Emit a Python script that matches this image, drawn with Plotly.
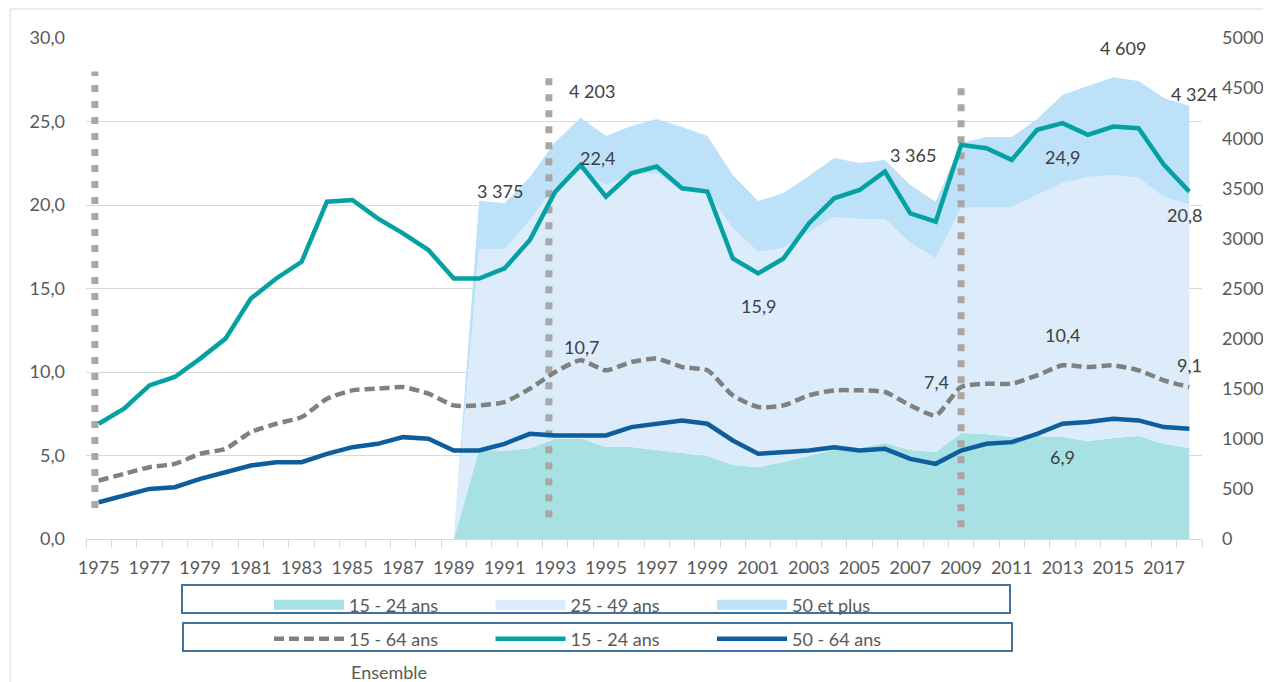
import plotly.graph_objects as go

# ---------------- data ----------------
years = list(range(1975, 2019))
area_years = list(range(1989, 2019))

# taux de chômage (%), axe gauche
rate_15_64 = [3.5, 3.9, 4.3, 4.5, 5.1, 5.4, 6.4, 6.9, 7.3, 8.4, 8.9, 9.0, 9.1, 8.7, 8.0,
              8.0, 8.2, 9.0, 10.0, 10.7, 10.1, 10.6, 10.8, 10.3, 10.1, 8.6, 7.9, 8.0, 8.6, 8.9,
              8.9, 8.8, 8.0, 7.4, 9.1, 9.3, 9.3, 9.8, 10.4, 10.3, 10.4, 10.1, 9.5, 9.1]
rate_15_24 = [6.9, 7.8, 9.2, 9.7, 10.8, 12.0, 14.4, 15.6, 16.6, 20.2, 20.3, 19.2, 18.3, 17.3, 15.6,
              15.6, 16.2, 17.9, 20.8, 22.4, 20.5, 21.9, 22.3, 21.0, 20.8, 16.8, 15.9, 16.8, 18.9, 20.4,
              20.9, 22.0, 19.5, 19.0, 23.6, 23.4, 22.7, 24.5, 24.9, 24.2, 24.7, 24.6, 22.4, 20.8]
rate_50_64 = [2.2, 2.6, 3.0, 3.1, 3.6, 4.0, 4.4, 4.6, 4.6, 5.1, 5.5, 5.7, 6.1, 6.0, 5.3,
              5.3, 5.7, 6.3, 6.2, 6.2, 6.2, 6.7, 6.9, 7.1, 6.9, 5.9, 5.1, 5.2, 5.3, 5.5,
              5.3, 5.4, 4.8, 4.5, 5.3, 5.7, 5.8, 6.3, 6.9, 7.0, 7.2, 7.1, 6.7, 6.6]

# effectifs (milliers), axe droit, empilés
n_15_24 = [0, 890, 880, 905, 1000, 1005, 918, 918, 888, 858, 828, 738, 718, 768, 828,
           898, 908, 958, 888, 868, 1058, 1048, 1018, 1028, 1018, 978, 1008, 1028, 948, 908]
n_25_49 = [0, 2004, 2014, 2279, 2520, 2675, 2615, 2715, 2765, 2622, 2622, 2366, 2146, 2136, 2236,
           2316, 2286, 2236, 2066, 1936, 2245, 2265, 2295, 2405, 2535, 2635, 2625, 2575, 2465, 2425]
n_50_plus = [0, 481, 456, 429, 442, 523, 489, 489, 539, 632, 572, 529, 509, 549, 559,
             588, 559, 588, 579, 561, 649, 699, 699, 759, 878, 908, 976, 968, 988, 991]

tick_years = list(range(1975, 2018, 2))
period_marks = [1974.85, 1992.75, 2009.0]
period_tops = [28.0, 27.6, 27.0]
period_bottoms = [1.85, 1.3, 0.7]

# ---------------- geometry helpers (screen px -> paper) ----------------
OFF = 8                          # page body margin
W, H = 1271 - OFF, 682 - OFF
L, R, T, B = 86, 1202, 38, 539   # plot area in screen px
def px(x):
    return (x - L) / (R - L)
def py(y):
    return (B - y) / (B - T)

FONT = "Lato"
FS = 18
fig = go.Figure()

# stacked areas (right axis scale, base subplot so it stays under the lines)
area_specs = [("15 - 24 ans", n_15_24, "#A7E1E3"),
              ("25 - 49 ans", n_25_49, "#DDECFA"),
              ("50 et plus", n_50_plus, "#BDE1F8")]
for name, vals, col in area_specs:
    fig.add_trace(go.Scatter(x=area_years, y=vals, name=name, stackgroup="one",
                             mode="none", fillcolor=col, yaxis="y", showlegend=False,
                             hoverinfo="skip"))
# legend swatches for the areas (legend-only entries)
for name, vals, col in area_specs:
    fig.add_trace(go.Scatter(x=[None], y=[None], name=name, mode="lines", yaxis="y",
                             line=dict(color=col, width=11), legend="legend",
                             hoverinfo="skip"))

# vertical dotted period markers
for xm, top, bot in zip(period_marks, period_tops, period_bottoms):
    fig.add_trace(go.Scatter(x=[xm, xm], y=[bot, top], mode="lines", yaxis="y2",
                             line=dict(color="#ABA6A6", width=7, dash="7px,9px"),
                             showlegend=False, hoverinfo="skip"))

# lines
fig.add_trace(go.Scatter(x=years, y=rate_15_64, name="15 - 64 ans", yaxis="y2", legend="legend2",
                         mode="lines", line=dict(color="#808080", width=4.5, dash="10px,5px",
                                                 shape="spline", smoothing=0.6)))
fig.add_trace(go.Scatter(x=years, y=rate_15_24, name="15 - 24 ans", yaxis="y2", legend="legend2",
                         mode="lines", line=dict(color="#04A1A3", width=4.5)))
fig.add_trace(go.Scatter(x=years, y=rate_50_64, name="50 - 64 ans", yaxis="y2", legend="legend2",
                         mode="lines", line=dict(color="#0E5D9C", width=4.5)))

# data labels
def fr(v, dec):
    if dec:
        return f"{v:.1f}".replace(".", ",")
    return f"{v:,}".replace(",", " ")

totals = [a + b + c for a, b, c in zip(n_15_24, n_25_49, n_50_plus)]
labels = []
for yr, dx, dy in [(1990, 21, 10), (1994, 11, 27), (2008, -23, 47), (2015, 10, 29), (2018, 5, 12)]:
    v = totals[area_years.index(yr)]
    labels.append((yr, v, "y", fr(v, False), dx, dy))
for yr, dx, dy in [(1994, 17, 7), (2001, 0, -33), (2013, 0, -34), (2018, -5, -23)]:
    v = rate_15_24[years.index(yr)]
    labels.append((yr, v, "y2", fr(v, True), dx, dy))
for yr, dx, dy in [(1994, 1, 13), (2008, 1, 33), (2013, 0, 30), (2018, 0, 22)]:
    v = rate_15_64[years.index(yr)]
    labels.append((yr, v, "y2", fr(v, True), dx, dy))
for yr, dx, dy in [(2013, 0, -33)]:
    v = rate_50_64[years.index(yr)]
    labels.append((yr, v, "y2", fr(v, True), dx, dy))

annotations = []
for xv, yv, yr_, txt, dx, dy in labels:
    annotations.append(dict(x=xv, y=yv, xref="x", yref=yr_, text=txt, showarrow=False,
                            xshift=dx, yshift=dy, font=dict(family=FONT, size=FS, color="#404040")))
annotations.append(dict(x=px(389), y=py(672), xref="paper", yref="paper", text="Ensemble",
                        xanchor="center", yanchor="middle", showarrow=False,
                        font=dict(family=FONT, size=FS, color="#595959")))

shapes = [
    dict(type="rect", xref="paper", yref="paper", x0=px(10), x1=px(1290), y0=py(700), y1=py(9),
         line=dict(color="#D9D9D9", width=1), layer="below"),
    dict(type="rect", xref="paper", yref="paper", x0=px(182), x1=px(1010), y0=py(613), y1=py(585),
         line=dict(color="#41719C", width=2)),
    dict(type="rect", xref="paper", yref="paper", x0=px(183), x1=px(1012), y0=py(651), y1=py(623),
         line=dict(color="#41719C", width=2)),
]

legend_common = dict(orientation="h", bgcolor="rgba(0,0,0,0)", borderwidth=0,
                     font=dict(family=FONT, size=FS, color="#595959"),
                     itemwidth=70, entrywidth=136.5, entrywidthmode="pixels", traceorder="normal",
                     xanchor="left", yanchor="middle", itemclick=False, itemdoubleclick=False)

fig.update_layout(
    width=W, height=H, autosize=False,
    margin=dict(l=L - OFF, r=W - (R - OFF), t=T - OFF, b=H - (B - OFF), pad=0, autoexpand=False),
    paper_bgcolor="white", plot_bgcolor="white",
    separators=", ",
    font=dict(family=FONT, size=FS, color="#595959"),
    showlegend=True,
    legend=dict(x=px(269), y=py(605), **legend_common),
    legend2=dict(x=px(269), y=py(639), **legend_common),
    xaxis=dict(range=[1974.5, 2018.5], tickvals=tick_years, ticktext=[str(t) for t in tick_years],
               ticks="", showgrid=False, zeroline=False, showline=True, linecolor="#D9D9D9",
               linewidth=1, ticklabelstandoff=12, automargin=False,
               minor=dict(ticks="outside", tick0=1974.5, dtick=1, ticklen=8,
                          tickcolor="#D9D9D9", tickwidth=1, showgrid=False),
               tickfont=dict(family=FONT, size=FS, color="#595959")),
    yaxis=dict(range=[0, 5000], dtick=500, tickformat="d", side="right", showgrid=False,
               zeroline=False, showline=False, ticks="", ticklabelstandoff=19, automargin=False,
               tickfont=dict(family=FONT, size=FS, color="#595959")),
    yaxis2=dict(range=[0, 30], dtick=5, tickformat=".1f", side="left", overlaying="y",
                anchor="x", showgrid=True, gridcolor="#D9D9D9", gridwidth=1, zeroline=False,
                showline=False, ticks="", ticklabelstandoff=20, automargin=False,
                tickfont=dict(family=FONT, size=FS, color="#595959")),
    annotations=annotations,
    shapes=shapes,
)

fig.write_html("out.html")
